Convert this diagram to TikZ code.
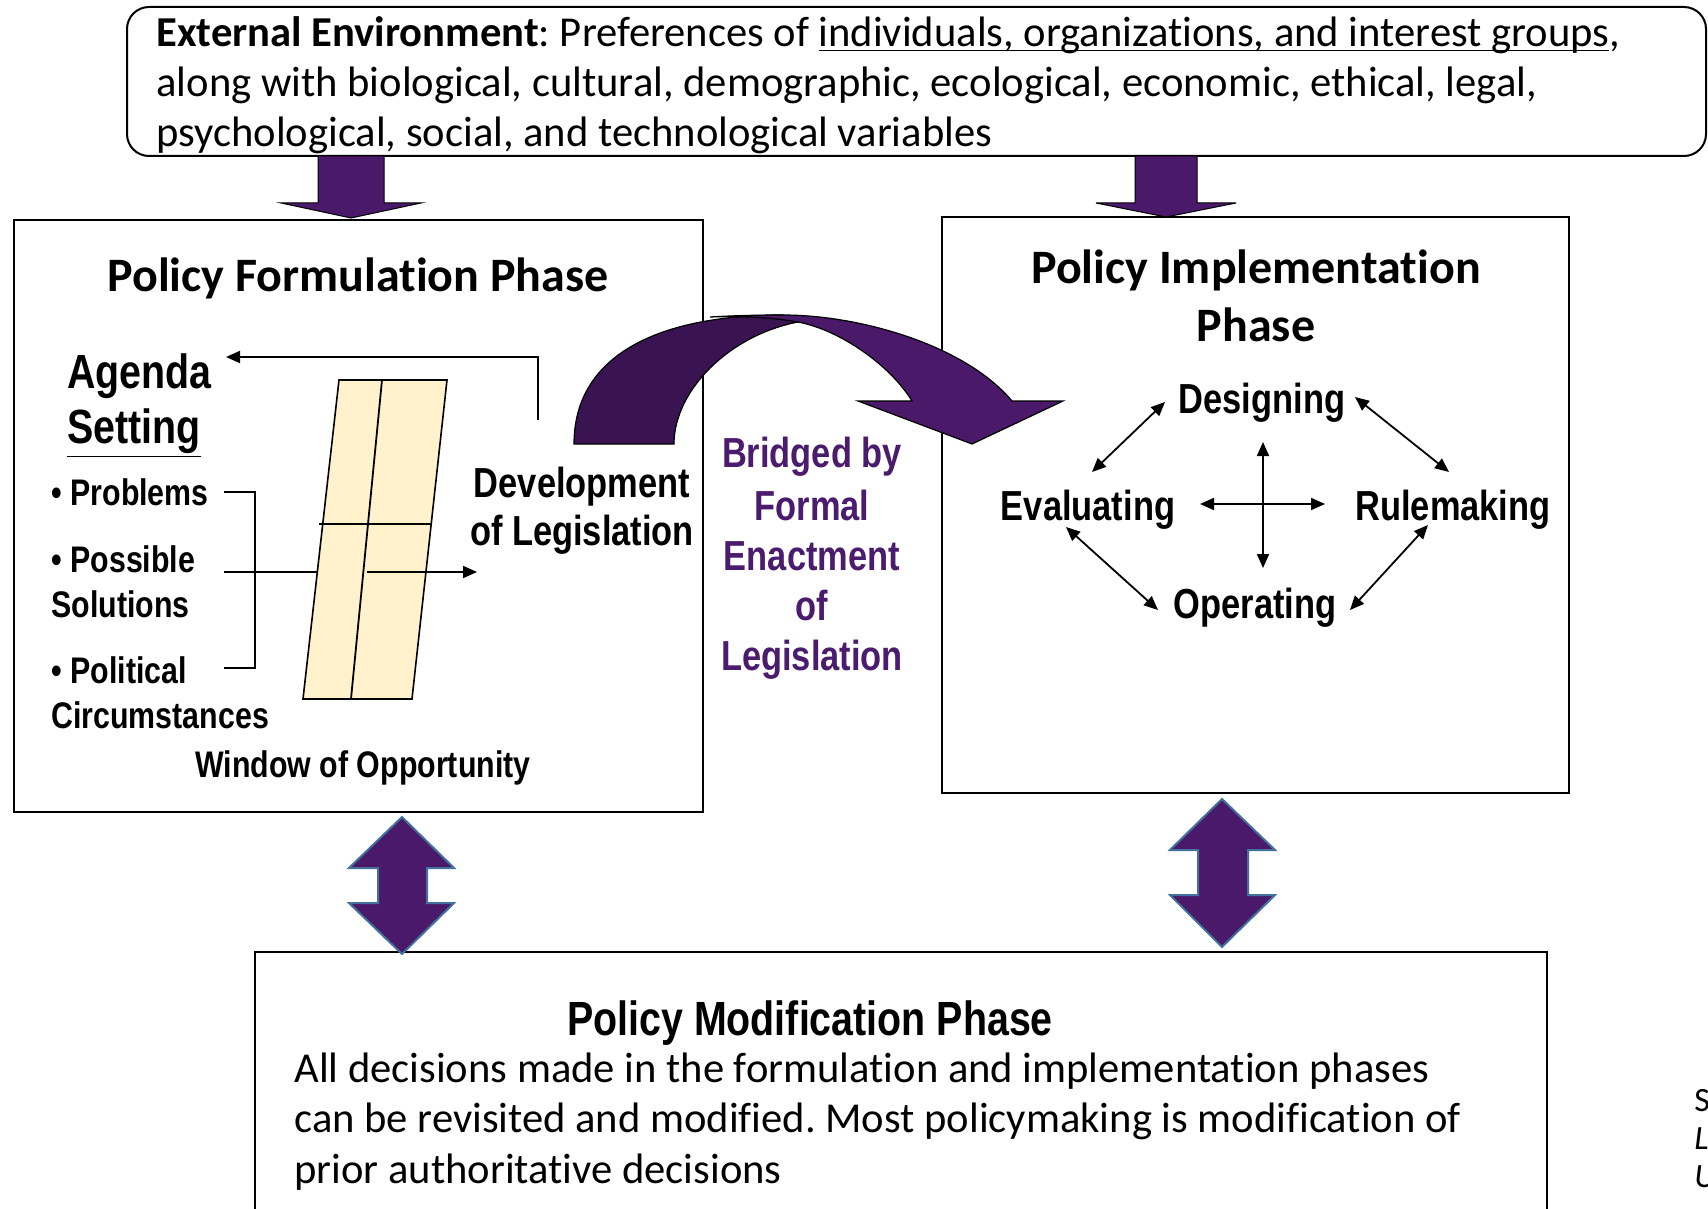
\documentclass[tikz,border=0pt]{standalone}
\usepackage{fontspec}
\setmainfont{Carlito}[Ligatures=NoCommon]
\newfontfamily\narrow[FakeStretch=0.82]{Liberation Sans}
\usetikzlibrary{arrows.meta}
\definecolor{purp}{HTML}{4A196A}
\definecolor{purpdark}{HTML}{3A1352}
\definecolor{purptext}{HTML}{4B1C6E}
\definecolor{steel}{HTML}{41719C}
\definecolor{cream}{HTML}{FFF2CC}
\newcommand{\myul}[1]{\setbox0\hbox{#1}\rlap{\rule[-2.2pt]{\wd0}{0.8pt}}\box0}
\frenchspacing
\begin{document}
\begin{tikzpicture}[x=0.5pt,y=-0.5pt,
  boxst/.style={draw=black,line width=0.8pt,inner sep=0pt},
  bodytxt/.style={font=\fontsize{21.3}{25}\selectfont,inner sep=0pt,anchor=base west},
  ttltxt/.style={font=\fontsize{24}{29}\selectfont\bfseries,inner sep=0pt,anchor=base},
  nartxt/.style={font=\narrow\bfseries\fontsize{21}{25}\selectfont,inner sep=0pt,anchor=base},
  narbig/.style={font=\narrow\bfseries\fontsize{24}{29}\selectfont,inner sep=0pt},
  narsmall/.style={font=\narrow\bfseries\fontsize{18.5}{22}\selectfont,inner sep=0pt,anchor=base west},
  thinline/.style={draw=black,line width=0.9pt},
  tip/.style={-{Triangle[length=7pt,width=6pt]}},
  tips/.style={{Triangle[length=7pt,width=6pt]}-{Triangle[length=7pt,width=6pt]}},
  blockarrow/.style={fill=purp,draw=black,line width=0.5pt},
  dblarrow/.style={fill=purp,draw=steel,line width=1pt}]
\useasboundingbox (0,0) rectangle (1708,1209);
\fill[white] (0,0) rectangle (1708,1209);

% boxes
\node[draw=black,line width=1pt,rounded corners=11pt,minimum width=789.5pt,minimum height=74.5pt,inner sep=0pt] (env) at (916.5,81.5) {};
\node[boxst,minimum width=344.5pt,minimum height=296pt] (form) at (358.5,516) {};
\node[boxst,minimum width=313.5pt,minimum height=288pt] (impl) at (1255.5,505) {};
\node[boxst,line width=1pt,minimum width=646pt,minimum height=139pt] (modbox) at (901,1091) {};

% external environment text
\node[bodytxt] (env1) at (156,47) {\textbf{External Environment}: Preferences of \myul{individuals, organizations, and interest groups},};
\node[bodytxt] (env2) at (156,97) {along with biological, cultural, demographic, ecological, economic, ethical, legal,};
\node[bodytxt] (env3) at (156,147) {psychological, social, and technological variables};

% down block arrows
\filldraw[blockarrow] (318,156) -- (384,156) -- (384,203) -- (421,203) -- (351,218) -- (281,203) -- (318,203) -- cycle;
\filldraw[blockarrow] (1135,156) -- (1197,156) -- (1197,203) -- (1236,203) -- (1166,217) -- (1096,203) -- (1135,203) -- cycle;

% titles
\node[ttltxt] (formt) at (358,292) {Policy Formulation Phase};
\node[ttltxt] (implt1) at (1256,284) {Policy Implementation};
\node[ttltxt] (implt2) at (1256,342) {Phase};

% formulation content
\node[narbig,anchor=base west] (agenda) at (67,388) {Agenda};
\node[narbig,anchor=base west] (setting) at (67,443) {\underline{Setting}};
\node[narsmall] (prob) at (51,505) {• Problems};
\node[narsmall] (poss) at (51,572) {• Possible};
\node[narsmall] (sol) at (51,617) {Solutions};
\node[narsmall] (pol) at (51,683) {• Political};
\node[narsmall] (circ) at (51,728) {Circumstances};
\node[font=\narrow\bfseries\fontsize{18.5}{22}\selectfont,inner sep=0pt,anchor=base] (win) at (363,777) {Window of Opportunity};
\node[nartxt] (dev1) at (582,497) {Development};
\node[nartxt] (dev2) at (582,545) {of Legislation};

% window of opportunity
\filldraw[fill=cream,draw=black,line width=0.8pt] (339,380) -- (447,380) -- (412,699) -- (303,699) -- cycle;
\draw[thinline] (382,380) -- (351,699);
\draw[thinline] (319,524) -- (431,524);

% bracket
\coordinate (b1) at (224,492);
\coordinate (b2) at (255,492);
\coordinate (b3) at (255,668);
\coordinate (b4) at (224,668);
\coordinate (bm1) at (224,572);
\coordinate (bm2) at (318,572);
\draw[thinline] (b1) -- (b2) -- (b3) -- (b4);
\draw[thinline] (bm1) -- (bm2);
\coordinate (w1) at (367,572);
\coordinate (w2) at (477,572);
\draw[thinline,tip] (w1) -- (w2);
\coordinate (ag1) at (538,420);
\coordinate (ag2) at (538,357);
\coordinate (ag3) at (226,357);
\draw[thinline,tip] (ag1) -- (ag2) -- (ag3);

% curved arrow
\filldraw[fill=purpdark,draw=black,line width=0.6pt] (574,444) .. controls (574,360) and (650,315) .. (783,315) -- (798,322) .. controls (730,335) and (674,390) .. (674,444) -- cycle;
\filldraw[fill=purp,draw=black,line width=0.6pt] (710,317) .. controls (735,315.5) and (760,315) .. (783,315) .. controls (860,315) and (965,345) .. (1012,401) -- (1063,401) -- (972,444) -- (858,401) -- (912,401) .. controls (890,365) and (840,330) .. (798,322) .. controls (770,317) and (740,316) .. (710,317) -- cycle;

% bridged text
\node[nartxt,text=purptext] (br1) at (812,467) {Bridged by};
\node[nartxt,text=purptext] (br2) at (812,520) {Formal};
\node[nartxt,text=purptext] (br3) at (812,570) {Enactment};
\node[nartxt,text=purptext] (br4) at (812,620) {of};
\node[nartxt,text=purptext] (br5) at (812,670) {Legislation};

% implementation cycle
\node[nartxt] (des) at (1262,413) {Designing};
\node[nartxt] (eva) at (1088,520) {Evaluating};
\node[nartxt] (rul) at (1453,520) {Rulemaking};
\node[nartxt] (ope) at (1255,618) {Operating};
\coordinate (de1) at (1165,402); \coordinate (de2) at (1092,472);
\coordinate (dr1) at (1355,397); \coordinate (dr2) at (1449,472);
\coordinate (eo1) at (1066,527); \coordinate (eo2) at (1158,610);
\coordinate (ro1) at (1428,525); \coordinate (ro2) at (1350,610);
\coordinate (cv1) at (1263,442); \coordinate (cv2) at (1263,568);
\coordinate (ch1) at (1200,504); \coordinate (ch2) at (1325,504);
\draw[thinline,tips] (de1) -- (de2);
\draw[thinline,tips] (dr1) -- (dr2);
\draw[thinline,tips] (eo1) -- (eo2);
\draw[thinline,tips] (ro1) -- (ro2);
\draw[thinline,tips] (cv1) -- (cv2);
\draw[thinline,tips] (ch1) -- (ch2);

% double arrows
\filldraw[dblarrow] (402,817) -- (454,868) -- (427,868) -- (427,903) -- (454,903) -- (402,954) -- (349,903) -- (378,903) -- (378,868) -- (349,868) -- cycle;
\filldraw[dblarrow] (1222,799) -- (1275,850) -- (1248,850) -- (1248,895) -- (1275,895) -- (1222,947) -- (1170,895) -- (1198,895) -- (1198,850) -- (1170,850) -- cycle;

% modification
\node[narbig,anchor=base] (modt) at (810,1035) {Policy Modification Phase};
\node[bodytxt] (mod1) at (294,1082) {All decisions made in the formulation and implementation phases};
\node[bodytxt] (mod2) at (294,1132) {can be revisited and modified. Most policymaking is modification of};
\node[bodytxt] (mod3) at (294,1183) {prior authoritative decisions};

% cut-off source letters
\node[font=\fontsize{17}{19}\selectfont,inner sep=0pt,anchor=base west] (s1) at (1694,1111) {S};
\node[font=\fontsize{17}{19}\selectfont\itshape,inner sep=0pt,anchor=base west] (s2) at (1694,1149) {L};
\node[font=\fontsize{17}{19}\selectfont\itshape,inner sep=0pt,anchor=base west] (s3) at (1694,1187) {U};
\end{tikzpicture}
\end{document}
